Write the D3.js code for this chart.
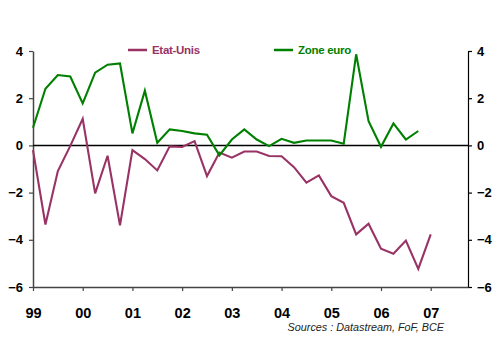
<!DOCTYPE html>
<html><head><meta charset="utf-8">
<script src="https://cdn.jsdelivr.net/npm/d3@7"></script>
<style>
html,body{margin:0;padding:0;background:#fff;}
svg{display:block;font-family:"Liberation Sans",Arial,sans-serif;}
</style></head>
<body>
<svg id="chart" width="500" height="363"></svg>
<script>
const quarters = ["1999T1","1999T2","1999T3","1999T4","2000T1","2000T2","2000T3","2000T4",
"2001T1","2001T2","2001T3","2001T4","2002T1","2002T2","2002T3","2002T4",
"2003T1","2003T2","2003T3","2003T4","2004T1","2004T2","2004T3","2004T4",
"2005T1","2005T2","2005T3","2005T4","2006T1","2006T2","2006T3","2006T4","2007T1"];
const etatsUnis = [-0.2,-3.35,-1.09,-0.02,1.13,-2.03,-0.44,-3.39,-0.2,-0.58,-1.06,-0.04,-0.07,0.18,-1.3,-0.3,
-0.52,-0.26,-0.26,-0.45,-0.46,-0.92,-1.58,-1.27,-2.15,-2.43,-3.77,-3.32,-4.38,-4.59,-4.03,-5.23,-3.77];
const zoneEuro = [0.75,2.4,2.98,2.92,1.78,3.08,3.42,3.47,0.51,2.32,0.11,0.68,0.61,0.51,0.45,-0.42,
0.25,0.68,0.25,-0.03,0.28,0.11,0.21,0.21,0.21,0.07,3.86,1.03,-0.06,0.93,0.25,0.61];
const yearLabels = ["99","00","01","02","03","04","05","06","07"];
const yTicks = [4,2,0,-2,-4,-6];
const seriesNames = ["Etat-Unis","Zone euro"];
const colors = ["#993366","#008000"];

const toT = q => +q.slice(0,4) + (+q.slice(5)-1)/4;
const svg = d3.select("#chart");
const x = d3.scaleLinear().domain([1999, 2007.75]).range([33, 468]);
const y = d3.scaleLinear().domain([-6, 4]).range([287, 51]);

// left axis
const gl = svg.append("g").attr("transform","translate(33,0)")
  .call(d3.axisLeft(y).tickValues(yTicks).tickFormat(d3.format("d")).tickSize(4).tickSizeOuter(0).tickPadding(6));
gl.select(".domain").attr("stroke","#444").attr("stroke-width",1.5);
gl.selectAll(".tick line").attr("stroke","#444").attr("stroke-width",1.2);
gl.selectAll("text").attr("font-size",13).attr("font-weight","bold").attr("fill","#000");

// right axis
const gr = svg.append("g").attr("transform","translate(468,0)")
  .call(d3.axisRight(y).tickValues(yTicks).tickFormat(d3.format("d")).tickSize(4).tickSizeOuter(0).tickPadding(5));
gr.select(".domain").attr("stroke","#000").attr("stroke-width",1.2);
gr.selectAll(".tick line").attr("stroke","#000").attr("stroke-width",1.2);
gr.selectAll("text").attr("font-size",13).attr("font-weight","bold").attr("fill","#000");

// bottom axis
const yearVals = yearLabels.map((d,i)=>1999+i);
const gb = svg.append("g").attr("transform","translate(0,287)")
  .call(d3.axisBottom(x).tickValues(yearVals).tickFormat((d,i)=>yearLabels[i]).tickSize(4).tickSizeOuter(0).tickPadding(17));
gb.select(".domain").attr("stroke","#444").attr("stroke-width",1.5);
gb.selectAll(".tick line").attr("stroke","#444").attr("stroke-width",1.2);
gb.selectAll("text").attr("font-size",14.5).attr("font-weight","bold").attr("fill","#000");

// zero line
svg.append("line").attr("x1",x(1999)).attr("x2",x(2007.75)).attr("y1",y(0)).attr("y2",y(0))
  .attr("stroke","#000").attr("stroke-width",1.5);

const line = d3.line().x(d=>x(d[0])).y(d=>y(d[1]));
[etatsUnis, zoneEuro].forEach((vals,i)=>{
  const pts = vals.map((v,j)=>[toT(quarters[j]), v]);
  svg.append("path").datum(pts).attr("d",line).attr("fill","none")
    .attr("stroke",colors[i]).attr("stroke-width",2.1).attr("stroke-linejoin","miter");
});

// legend
const legX = [128, 274];
seriesNames.forEach((n,i)=>{
  svg.append("line").attr("x1",legX[i]).attr("x2",legX[i]+19).attr("y1",50).attr("y2",50)
    .attr("stroke",colors[i]).attr("stroke-width",2.5);
  svg.append("text").attr("x",legX[i]+24).attr("y",54).text(n)
    .attr("font-size",11.5).attr("font-weight","bold").attr("fill",colors[i]).attr("letter-spacing","-0.3");
});

// source
svg.append("text").attr("x",444).attr("y",331).attr("text-anchor","end")
  .attr("font-size",10.8).attr("font-style","italic").attr("fill","#222")
  .text("Sources : Datastream, FoF, BCE");
</script>
</body></html>
